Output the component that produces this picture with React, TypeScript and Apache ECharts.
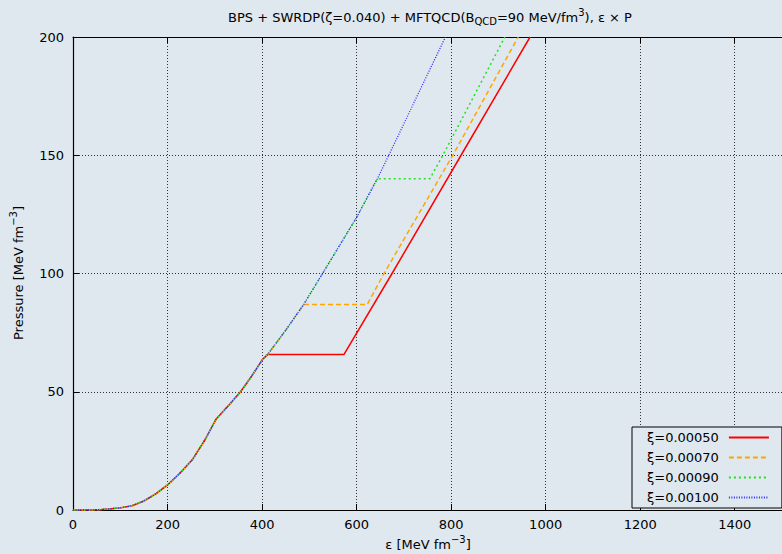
import React, { useEffect, useRef } from 'react';
import * as echarts from 'echarts';

// Legend labels
const xiLabels = ['ξ=0.00050', 'ξ=0.00070', 'ξ=0.00090', 'ξ=0.00100'];
const seriesColors = ['#ff0000', '#ffa500', '#22e022', '#2a2aff'];

// Hadronic (BPS + SWRDP) branch, common to all curves
const hadronEps = [0, 40, 60, 80, 100, 125, 150, 175, 200, 225, 253, 279, 303, 330, 354.5, 378, 400, 412, 450, 488, 528, 600, 644, 668, 728, 788];
const hadronP = [0, 0, 0.2, 0.5, 0.9, 1.8, 3.8, 6.8, 10.6, 15.3, 21.4, 29.6, 38.5, 44.4, 50, 56.6, 63.4, 65.8, 76, 86.9, 100, 123.7, 140.1, 150, 175, 200];

// Phase transition plateaus (start eps, end eps, pressure)
const plateauStart = [412, 488, 643.6];
const plateauEnd = [573.4, 622.5, 755];
const plateauP = [65.8, 86.9, 140.1];

// Quark (MFTQCD) branch after each plateau
const quarkEps050 = [675, 821, 967];
const quarkP050 = [100, 150, 200];
const quarkEps070 = [658, 803.6, 941.9];
const quarkP070 = [100, 150, 200];
const quarkEps090 = [782.5, 913.7];
const quarkP090 = [150, 200];

const FONT = 'DejaVu Sans';

function buildCurve(i: number, qe: number[], qp: number[]) {
  const pts: number[][] = [];
  for (let k = 0; k < hadronEps.length; k++) {
    if (hadronEps[k] < plateauStart[i]) pts.push([hadronEps[k], hadronP[k]]);
  }
  pts.push([plateauStart[i], plateauP[i]]);
  pts.push([plateauEnd[i], plateauP[i]]);
  for (let k = 0; k < qe.length; k++) pts.push([qe[k], qp[k]]);
  return pts;
}

export default function App() {
  const ref = useRef<HTMLDivElement>(null);
  useEffect(() => {
    if (!ref.current) return;
    document.body.style.margin = '0';
    document.body.style.background = '#dfe8ef';
    const chart = echarts.init(ref.current, null, { renderer: 'svg' });
    const data = [
      buildCurve(0, quarkEps050, quarkP050),
      buildCurve(1, quarkEps070, quarkP070),
      buildCurve(2, quarkEps090, quarkP090),
      hadronEps.map((e, k) => [e, hadronP[k]]),
    ];
    const dashTypes: any[] = ['solid', [5, 3], [2, 3], [1, 1.5]];
    const widths = [1.5, 1.5, 1.5, 1.3];
    const series = data.map((d, i) => ({
      type: 'line',
      name: xiLabels[i],
      data: d,
      symbol: 'none',
      showSymbol: false,
      smooth: false,
      xAxisIndex: 0,
      yAxisIndex: 0,
      lineStyle: { color: seriesColors[i], width: widths[i], type: dashTypes[i] },
      itemStyle: { color: seriesColors[i] },
      z: 3 + i,
    }));
    const axisLabelStyle = { color: '#000', fontFamily: FONT, fontSize: 13 };
    const option: any = {
      animation: false,
      backgroundColor: '#dfe8ef',
      textStyle: { fontFamily: FONT },
      grid: { left: 73, right: -4, top: 37, bottom: 44, containLabel: false },
      xAxis: [
        {
          type: 'value',
          min: 0,
          max: 1500,
          interval: 200,
          position: 'bottom',
          axisLine: { show: true, onZero: false, lineStyle: { color: '#000', width: 1.2 } },
          axisTick: { show: true, inside: true, length: 6, lineStyle: { color: '#000' } },
          axisLabel: { ...axisLabelStyle, margin: 8, showMaxLabel: false, formatter: (v: number) => String(v) },
          splitLine: { show: true, lineStyle: { color: '#333', type: [1, 2], width: 1 } },
        },
        {
          type: 'value',
          min: 0,
          max: 1500,
          interval: 200,
          position: 'top',
          axisLine: { show: true, onZero: false, lineStyle: { color: '#000', width: 1.2 } },
          axisTick: { show: true, inside: true, length: 6, lineStyle: { color: '#000' } },
          axisLabel: { show: false },
          splitLine: { show: false },
        },
      ],
      yAxis: [
        {
          type: 'value',
          min: 0,
          max: 200,
          interval: 50,
          axisLine: { show: true, onZero: false, lineStyle: { color: '#000', width: 1.2 } },
          axisTick: { show: true, inside: true, length: 6, lineStyle: { color: '#000' } },
          axisLabel: { ...axisLabelStyle, margin: 9, formatter: (v: number) => String(v) },
          splitLine: { show: true, lineStyle: { color: '#333', type: [1, 2], width: 1 } },
        },
      ],
      legend: {
        show: true,
        orient: 'vertical',
        left: 632,
        top: 427,
        align: 'right',
        itemWidth: 40,
        itemHeight: 12,
        itemGap: 7,
        padding: [4, 12, 4, 15],
        borderColor: '#000',
        borderWidth: 1,
        backgroundColor: '#dfe8ef',
        itemStyle: { opacity: 0 },
        textStyle: { color: '#000', fontFamily: FONT, fontSize: 13, padding: [0, 5, 0, 0] },
        data: xiLabels,
      },
      graphic: [
        {
          type: 'text',
          x: 430,
          y: 17,
          style: {
            text: 'BPS + SWRDP(ζ=0.040) + MFTQCD(B{sub|QCD}=90 MeV/fm{sup|3}), ε × P',
            fontFamily: FONT,
            fontSize: 13,
            fill: '#000',
            align: 'center',
            verticalAlign: 'middle',
            rich: {
              sub: { fontFamily: FONT, fontSize: 10, padding: [9, 0, 0, 0], fill: '#000' },
              sup: { fontFamily: FONT, fontSize: 10, padding: [0, 0, 9, 0], fill: '#000' },
            },
          },
        },
        {
          type: 'text',
          x: 428,
          y: 544,
          style: {
            text: 'ε [MeV fm{sup|−3}]',
            fontFamily: FONT,
            fontSize: 13,
            fill: '#000',
            align: 'center',
            verticalAlign: 'middle',
            rich: {
              sup: { fontFamily: FONT, fontSize: 10, padding: [0, 0, 9, 0], fill: '#000' },
            },
          },
        },
        {
          type: 'text',
          x: 18,
          y: 273,
          rotation: Math.PI / 2,
          style: {
            text: 'Pressure [MeV fm{sup|−3}]',
            fontFamily: FONT,
            fontSize: 13,
            fill: '#000',
            align: 'center',
            verticalAlign: 'middle',
            rich: {
              sup: { fontFamily: FONT, fontSize: 10, padding: [0, 0, 9, 0], fill: '#000' },
            },
          },
        },
      ],
      series,
    };
    chart.setOption(option);
    return () => chart.dispose();
  }, []);
  return (
    <div
      ref={ref}
      style={{ position: 'fixed', left: 0, top: 0, width: 782, height: 554, background: '#dfe8ef' }}
    />
  );
}
